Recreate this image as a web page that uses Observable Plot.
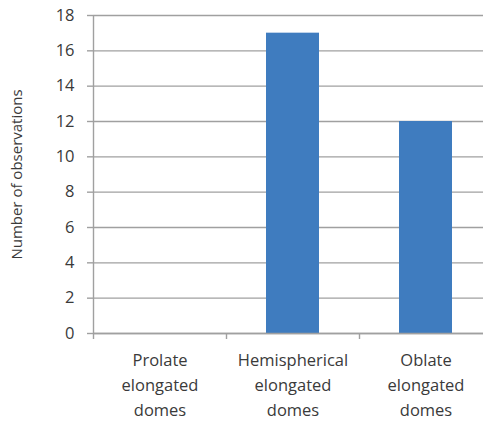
<!DOCTYPE html>
<html>
<head>
<meta charset="utf-8">
<script src="https://cdn.jsdelivr.net/npm/d3@7"></script>
<script src="https://cdn.jsdelivr.net/npm/@observablehq/plot@0.6"></script>
<style>
  html, body { margin: 0; padding: 0; background: #fff; }
  #chart { width: 483px; height: 421px; }
  #chart svg text { font-size: 16.5px; }
  #chart svg g[aria-label="y-axis label"] text { font-size: 15px; }
</style>
</head>
<body>
<div id="chart"></div>
<script>
// Dome shape categories and how often each was observed
const categories = ["Prolate\nelongated\ndomes", "Hemispherical\nelongated\ndomes", "Oblate\nelongated\ndomes"];
const observations = [0, 17, 12];
const yTicks = [0, 2, 4, 6, 8, 10, 12, 14, 16, 18];

const rows = categories.map((name, i) => ({name, index: i, value: observations[i]}));
const boundaries = d3.range(categories.length + 1);

const axisColor = "#a0a0a0";
const textColor = "#3a3a3a";

const chart = Plot.plot({
  width: 483,
  height: 421,
  marginLeft: 93,
  marginRight: 0,
  marginTop: 15,
  marginBottom: 88,
  style: {fontFamily: "'Open Sans', sans-serif", fontSize: "16.5px", color: textColor, background: "#fff"},
  x: {domain: [0, categories.length], range: [93, 492]},
  y: {domain: [0, 18]},
  marks: [
    Plot.ruleY(yTicks, {stroke: axisColor, strokeWidth: 1.4}),
    Plot.rectY(rows, {x1: "index", x2: d => d.index + 1, y: "value", insetLeft: 40, insetRight: 40, fill: "#3f7cbf"}),
    Plot.ruleX([0], {y1: 0, y2: 18, stroke: axisColor, strokeWidth: 1.4}),
    Plot.ruleY([0], {stroke: axisColor, strokeWidth: 1.4}),
    Plot.axisX({ticks: boundaries, tickSize: 6, tickFormat: () => "", stroke: axisColor, strokeWidth: 1.4, label: null}),
    Plot.axisY({ticks: yTicks, tickSize: 6, tickPadding: 13, stroke: axisColor, strokeWidth: 1.4,
      fill: textColor,
      label: "Number of observations", labelAnchor: "center", labelArrow: "none", labelOffset: 82}),
    Plot.text(rows, {x: d => d.index + 0.5, y: 0, text: "name", lineAnchor: "top", dy: 15, lineHeight: 1.52, fill: textColor})
  ]
});

document.getElementById("chart").appendChild(chart);
</script>
</body>
</html>
